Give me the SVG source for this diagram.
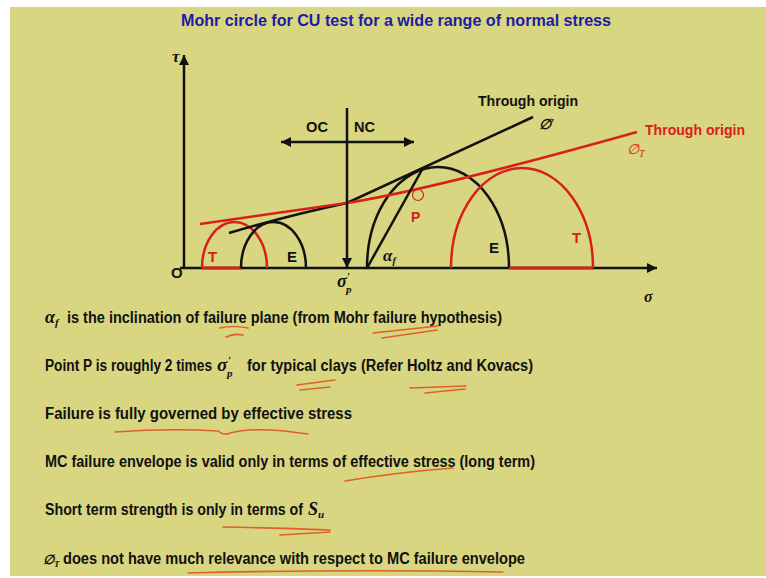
<svg xmlns="http://www.w3.org/2000/svg" width="766" height="578" viewBox="0 0 766 578">
<style>
.bg{fill:#d8d680}
.ax{stroke:#111;stroke-width:2.5;fill:none}
.blk{stroke:#111;stroke-width:2.5;fill:none}
.red{stroke:#d8201a;stroke-width:2.5;fill:none}
.t{font-family:"Liberation Sans",Arial,sans-serif;font-weight:bold;fill:#111}
.tr{font-family:"Liberation Sans",Arial,sans-serif;font-weight:bold;fill:#d8201a}
.g{font-family:"Liberation Serif","Times New Roman",serif;font-style:italic;font-weight:bold;fill:#111}
.gr{font-family:"Liberation Serif","Times New Roman",serif;font-style:italic;fill:#d8201a}
.ul{stroke:#e0602a;stroke-width:1.6;fill:none;stroke-linecap:round}
</style>
<defs>
<marker id="ah" viewBox="0 0 10 10" refX="10" refY="5" markerWidth="11" markerHeight="10" markerUnits="userSpaceOnUse" orient="auto-start-reverse">
<path d="M0,0 L10,5 L0,10 z" fill="#111"/>
</marker>
</defs>
<rect width="766" height="578" fill="#fff"/>
<rect class="bg" x="10" y="7" width="756" height="569"/>
<text x="396" y="26" text-anchor="middle" font-family="Liberation Sans,Arial,sans-serif" font-weight="bold" font-size="16" fill="#1c1ca6" textLength="430" lengthAdjust="spacingAndGlyphs">Mohr circle for CU test for a wide range of normal stress</text>

<g id="axes">
<line class="ax" x1="184" y1="268" x2="184" y2="55" marker-end="url(#ah)"/>
<line class="ax" x1="180" y1="268" x2="657" y2="268" marker-end="url(#ah)"/>
<text class="g" x="172" y="62" font-size="17">τ</text>
<text class="t" x="171" y="278" font-size="15">O</text>
<text class="g" x="644" y="302" font-size="16">σ</text>
</g>

<g id="circle-T-small">
<path class="red" d="M202,268 A32.5,46 0 0 1 267,268"/>
<line x1="202" y1="268" x2="241" y2="268" stroke="#d8201a" stroke-width="3"/>
<text class="tr" x="208" y="262" font-size="15">T</text>
</g>
<g id="circle-E-small">
<path class="blk" d="M241,268 A32.5,46 0 0 1 306,268"/>
<text class="t" x="287" y="262" font-size="15">E</text>
</g>
<g id="circle-E-large">
<path class="blk" d="M367,268 A71,101 0 0 1 509,268"/>
<text class="t" x="489" y="253" font-size="15">E</text>
</g>
<g id="circle-T-large">
<path class="red" d="M451,268 A71,100 0 0 1 593,268"/>
<line x1="509" y1="268" x2="593" y2="268" stroke="#d8201a" stroke-width="3"/>
<text class="tr" x="572" y="243" font-size="15">T</text>
</g>

<g id="connectors">
<path class="blk" d="M229,233 Q290,215 347,203 L533,117"/>
<path class="red" d="M200,224 L347,203 Q430,190 637,132"/>
<line class="blk" x1="367" y1="268" x2="423" y2="168" stroke-width="2"/>
<line class="ax" x1="347" y1="108" x2="347" y2="268" marker-end="url(#ah)"/>
<line class="ax" x1="281" y1="142" x2="414" y2="142" marker-start="url(#ah)" marker-end="url(#ah)"/>
</g>

<g id="labels">
<text class="t" x="306" y="132" font-size="15" textLength="22" lengthAdjust="spacingAndGlyphs">OC</text>
<text class="t" x="354" y="132" font-size="15" textLength="21" lengthAdjust="spacingAndGlyphs">NC</text>
<text class="t" x="478" y="106" font-size="15" textLength="100" lengthAdjust="spacingAndGlyphs">Through origin</text>
<text class="g" x="539" y="129" font-size="14" fill="#333" font-weight="normal">∅<tspan font-size="12" dy="-2">′</tspan></text>
<text class="tr" x="645" y="135" font-size="15" textLength="100" lengthAdjust="spacingAndGlyphs">Through origin</text>
<text class="gr" x="627" y="154" font-size="14">∅<tspan font-size="10" dy="3">T</tspan></text>
<g id="point-P">
<circle cx="418" cy="195" r="5.5" fill="none" stroke="#d8201a" stroke-width="1.2"/>
<text class="tr" x="411" y="222" font-size="14">P</text>
</g>
<text class="g" x="383" y="261" font-size="17" font-weight="normal">α<tspan font-size="10" dy="3">f</tspan></text>
<text class="g" x="337" y="287" font-size="18" font-weight="normal">σ</text>
<text class="g" x="347" y="280" font-size="11" font-weight="normal">′</text>
<text class="g" x="346" y="293" font-size="11" font-weight="normal">p</text>
</g>

<g id="notes">
<text class="g" x="45" y="323" font-size="18" font-weight="normal">α<tspan font-size="11" dy="3">f</tspan></text>
<text class="t" x="67" y="323" font-size="16" textLength="435" lengthAdjust="spacingAndGlyphs">is the inclination of failure plane (from Mohr failure hypothesis)</text>
<text class="t" x="45" y="371" font-size="16" textLength="167" lengthAdjust="spacingAndGlyphs">Point P is roughly 2 times</text>
<text class="g" x="217" y="371" font-size="19" font-weight="normal">σ</text>
<text class="g" x="228" y="364" font-size="11" font-weight="normal">′</text>
<text class="g" x="227" y="377" font-size="11" font-weight="normal">p</text>
<text class="t" x="247" y="371" font-size="16" textLength="286" lengthAdjust="spacingAndGlyphs">for typical clays (Refer Holtz and Kovacs)</text>
<text class="t" x="45" y="419" font-size="16" textLength="307" lengthAdjust="spacingAndGlyphs">Failure is fully governed by effective stress</text>
<text class="t" x="45" y="467" font-size="16" textLength="490" lengthAdjust="spacingAndGlyphs">MC failure envelope is valid only in terms of effective stress (long term)</text>
<text class="t" x="45" y="515" font-size="16" textLength="258" lengthAdjust="spacingAndGlyphs">Short term strength is only in terms of</text>
<text class="g" x="308" y="515" font-size="18">S<tspan font-size="11" dy="3">u</tspan></text>
<text class="g" x="43" y="564" font-size="13" font-weight="normal">∅<tspan font-size="9" dy="3">T</tspan></text>
<text class="t" x="63" y="564" font-size="16" textLength="462" lengthAdjust="spacingAndGlyphs">does not have much relevance with respect to MC failure envelope</text>
</g>

<g id="underlines">
<path class="ul" d="M220,328 Q234,325 248,328"/>
<path class="ul" d="M226,337 Q234,333 243,335"/>
<path class="ul" d="M373,333 L438,326"/>
<path class="ul" d="M382,338 L437,330"/>
<path class="ul" d="M297,385 L335,380"/>
<path class="ul" d="M300,390 L330,387"/>
<path class="ul" d="M410,388 L466,386"/>
<path class="ul" d="M425,393 L465,389"/>
<path class="ul" d="M115,432 Q170,428 218,431 Q224,436 230,433 Q255,426 308,434"/>
<path class="ul" d="M345,481 Q400,472 453,468"/>
<path class="ul" d="M223,527 Q280,528 330,530"/>
<path class="ul" d="M280,535 L330,532"/>
<path class="ul" d="M188,573 Q350,569 503,572"/>
</g>
</svg>
